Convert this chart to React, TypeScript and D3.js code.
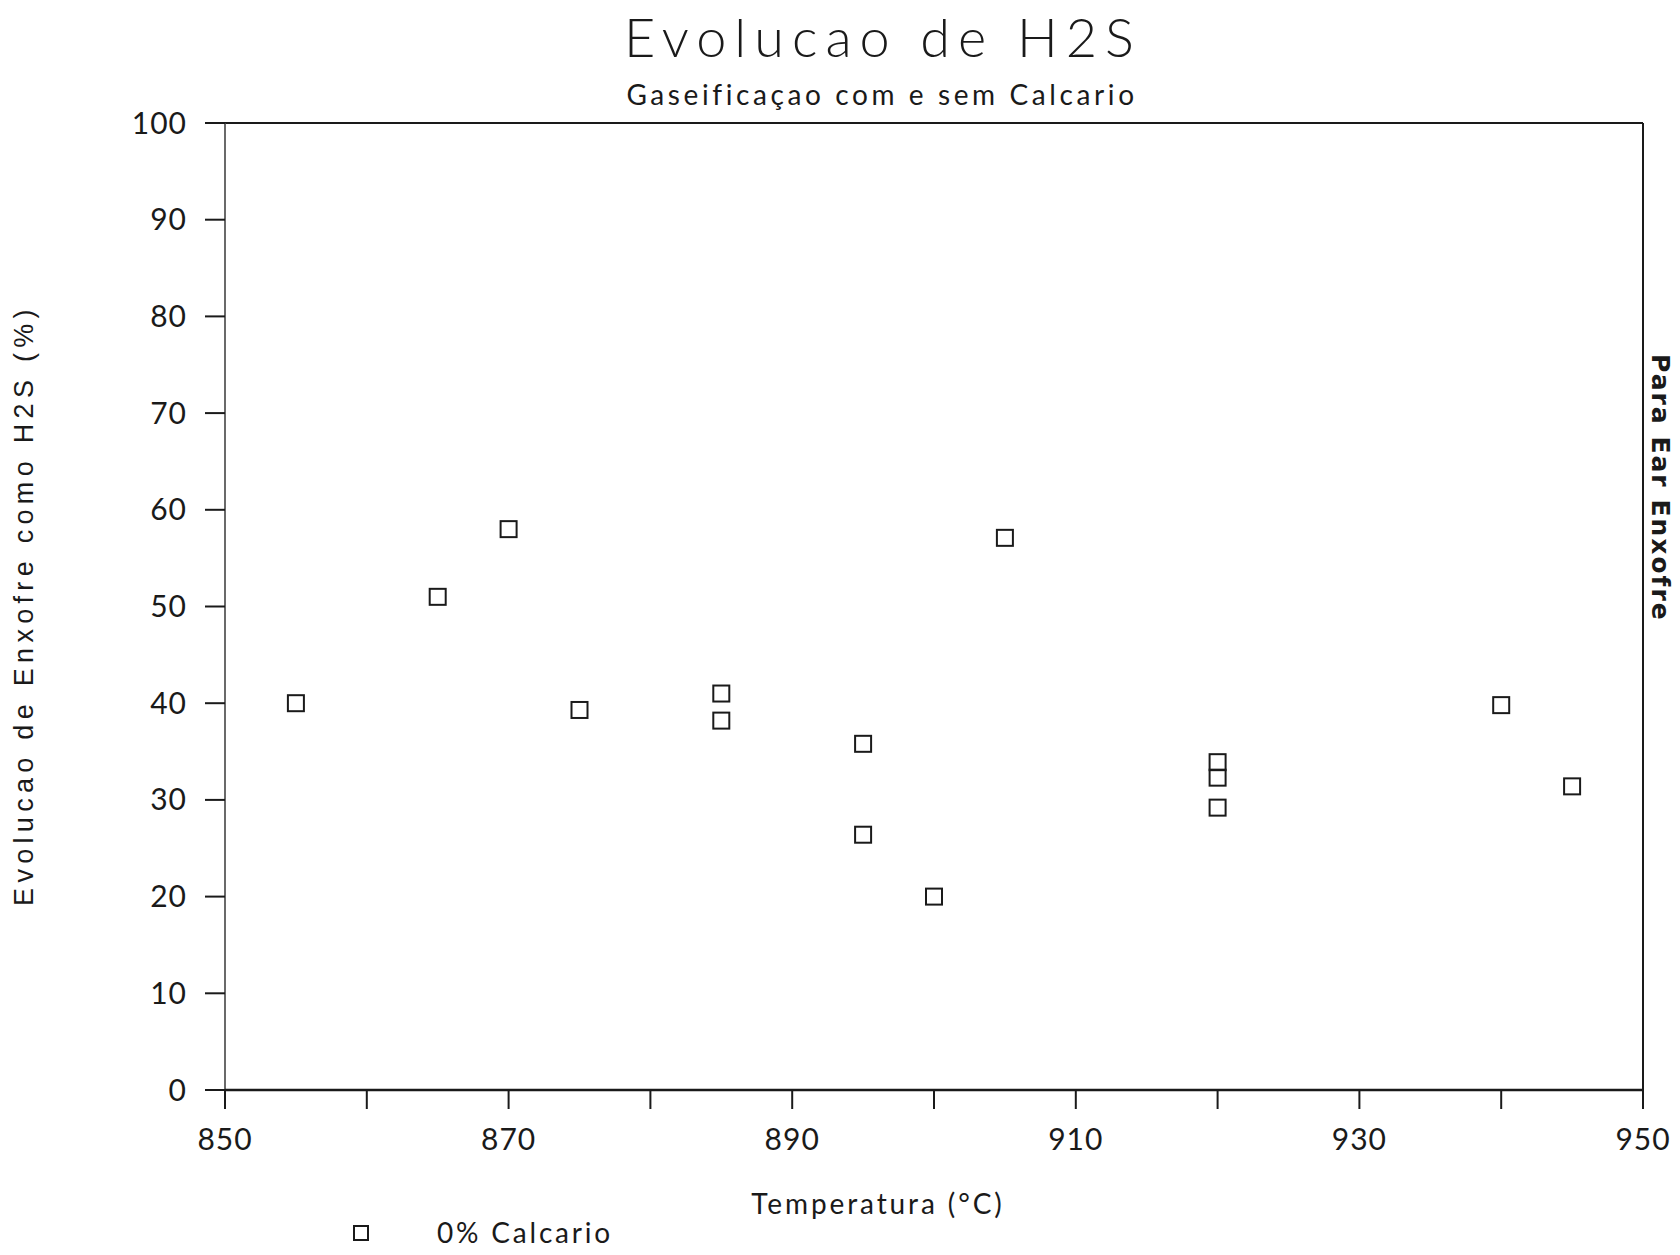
import React from "react";
import * as d3 from "d3";

const temperatures = [855, 865, 870, 875, 885, 885, 895, 895, 900, 905, 920, 920, 920, 940, 945];
const h2sEvolution = [40.0, 51.0, 58.0, 39.3, 41.0, 38.2, 35.8, 26.4, 20.0, 57.1, 33.9, 32.3, 29.2, 39.8, 31.4];
const xTicks = [850, 860, 870, 880, 890, 900, 910, 920, 930, 940, 950];
const xTickLabels = [850, 870, 890, 910, 930, 950];
const yTicks = [0, 10, 20, 30, 40, 50, 60, 70, 80, 90, 100];
const title = "Evolucao de H2S";
const subtitle = "Gaseificaçao com e sem Calcario";
const xTitle = "Temperatura (°C)";
const yTitle = "Evolucao de Enxofre como H2S (%)";
const legendLabel = "0% Calcario";
const sideNote = "Para Ear Enxofre";

export default function App() {
  const W = 1680, H = 1255;
  const left = 225, right = 1643, top = 123, bottom = 1090;
  const x = d3.scaleLinear().domain([850, 950]).range([left, right]);
  const y = d3.scaleLinear().domain([0, 100]).range([bottom, top]);
  const ink = "#1a1a1a";
  const font = "Lato, 'Open Sans', sans-serif";
  const ms = 16;

  return (
    <svg width={W} height={H} style={{ position: "absolute", left: 0, top: 0, background: "#fff" }}>
      <rect x={0} y={0} width={W} height={H} fill="#fff" />
      <text x={883} y={57} textAnchor="middle" fontFamily={font} fontWeight={300} fontSize={54} letterSpacing={8} fill={ink}>{title}</text>
      <text x={882} y={105} textAnchor="middle" fontFamily={font} fontSize={28} letterSpacing={3.6} fill={ink}>{subtitle}</text>

      {/* frame */}
      <line x1={left} y1={top} x2={right} y2={top} stroke={ink} strokeWidth={2} />
      <line x1={right} y1={top} x2={right} y2={bottom} stroke={ink} strokeWidth={2} />
      <line x1={left} y1={top} x2={left} y2={bottom} stroke="#444" strokeWidth={1.6} />
      <line x1={left} y1={bottom} x2={right} y2={bottom} stroke={ink} strokeWidth={2.4} />

      {yTicks.map((t) => (
        <g key={"y" + t}>
          <line x1={left - 20} x2={left} y1={y(t)} y2={y(t)} stroke={ink} strokeWidth={2} />
          <text x={187} y={y(t)} dy="0.35em" textAnchor="end" fontFamily={font} fontSize={30} letterSpacing={1} fill={ink}>{t}</text>
        </g>
      ))}
      {xTicks.map((t) => (
        <line key={"x" + t} x1={x(t)} x2={x(t)} y1={bottom} y2={bottom + 19} stroke={ink} strokeWidth={2} />
      ))}
      {xTickLabels.map((t) => (
        <text key={"xl" + t} x={x(t)} y={1150} textAnchor="middle" fontFamily={font} fontSize={30} letterSpacing={1} fill={ink}>{t}</text>
      ))}

      <text x={878} y={1214} textAnchor="middle" fontFamily={font} fontSize={28} letterSpacing={2.9} fill={ink}>{xTitle}</text>
      <text transform={`translate(33,605) rotate(-90)`} textAnchor="middle" fontFamily="'Liberation Sans', Arial, sans-serif" fontSize={27} letterSpacing={5.3} fill={ink}>{yTitle}</text>

      {temperatures.map((t, i) => (
        <rect key={"p" + i} x={x(t) - ms / 2} y={y(h2sEvolution[i]) - ms / 2} width={ms} height={ms} fill="none" stroke={ink} strokeWidth={2} />
      ))}

      <rect x={361 - 7} y={1233 - 7} width={14} height={14} fill="none" stroke={ink} strokeWidth={2} />
      <text x={437} y={1233} dy="0.35em" fontFamily={font} fontSize={28} letterSpacing={2.8} fill={ink}>{legendLabel}</text>

      <text transform={`translate(1652,354) rotate(90)`} fontFamily="'DejaVu Sans', sans-serif" fontWeight="bold" fontSize={25} letterSpacing={2} fill={ink}>{sideNote}</text>
    </svg>
  );
}
